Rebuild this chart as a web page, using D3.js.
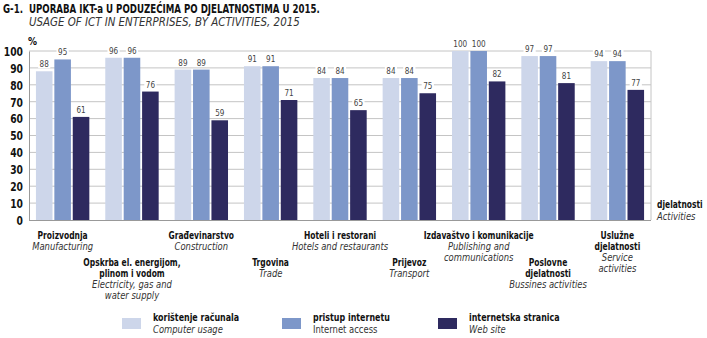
<!DOCTYPE html>
<html>
<head>
<meta charset="utf-8">
<script src="https://cdn.jsdelivr.net/npm/d3@7"></script>
<style>
  body { margin: 0; background: #fff; }
  svg { display: block; }
  text { font-family: "Liberation Sans Narrow", "DejaVu Sans Condensed", "Arial Narrow", sans-serif; font-stretch: condensed; }
  .title { font-weight: bold; font-size: 12px; fill: #111; }
  .subtitle { font-style: italic; font-size: 12px; fill: #333; }
  .ytick { font-weight: bold; font-size: 12px; fill: #111; }
  .val { font-size: 9.5px; fill: #444; }
  .cat { font-weight: bold; font-size: 10.5px; fill: #111; }
  .catEn { font-style: italic; font-size: 10.5px; fill: #333; }
  .legEn { font-size: 10.5px; fill: #333; }
</style>
</head>
<body>
<svg id="chart" width="707" height="338"></svg>
<script>
// activities (Croatian / English, split into lines)
const categories = ["manuf", "energy", "constr", "trade", "hotels", "transport", "publish", "business", "service"];
const catLabelsHr = [
  ["Proizvodnja"],
  ["Opskrba el. energijom,", "plinom i vodom"],
  ["Građevinarstvo"],
  ["Trgovina"],
  ["Hoteli i restorani"],
  ["Prijevoz"],
  ["Izdavaštvo i komunikacije"],
  ["Poslovne", "djelatnosti"],
  ["Uslužne", "djelatnosti"]
];
const catLabelsEn = [
  ["Manufacturing"],
  ["Electricity, gas and", "water supply"],
  ["Construction"],
  ["Trade"],
  ["Hotels and restaurants"],
  ["Transport"],
  ["Publishing and", "communications"],
  ["Bussines activities"],
  ["Service", "activities"]
];
const computerUsage  = [88, 96, 89, 91, 84, 84, 100, 97, 94];
const internetAccess = [95, 96, 89, 91, 84, 84, 100, 97, 94];
const webSite        = [61, 76, 59, 71, 65, 75, 82, 81, 77];
const yTicks = [0, 10, 20, 30, 40, 50, 60, 70, 80, 90, 100];

const series = [
  { key: "comp", hr: "korištenje računala", en: "Computer usage", values: computerUsage, color: "#cdd6ea", enClass: "catEn" },
  { key: "net", hr: "pristup internetu", en: "Internet access", values: internetAccess, color: "#7d97c9", enClass: "legEn" },
  { key: "web", hr: "internetska stranica", en: "Web site", values: webSite, color: "#2e2a5f", enClass: "catEn" }
];

const svg = d3.select("#chart");
const plotL = 29, plotR = 651, plotT = 51, plotB = 220;

// the fallback face is wider than a narrow grotesk, so squeeze each text
function squeeze(sel, k) {
  sel.each(function () {
    const w = this.getComputedTextLength();
    this.setAttribute("textLength", (w * k).toFixed(1));
    this.setAttribute("lengthAdjust", "spacingAndGlyphs");
  });
  return sel;
}

// titles
squeeze(svg.append("text").attr("class", "title").attr("x", 3).attr("y", 13).text("G-1."), 0.8);
squeeze(svg.append("text").attr("class", "title").attr("x", 29).attr("y", 13)
  .text("UPORABA IKT-a U PODUZEĆIMA PO DJELATNOSTIMA U 2015."), 0.8);
squeeze(svg.append("text").attr("class", "subtitle").attr("x", 29).attr("y", 26)
  .text("USAGE OF ICT IN ENTERPRISES, BY ACTIVITIES, 2015"), 0.95);

// scales
const x0 = d3.scaleBand().domain(categories).range([plotL, plotR])
  .paddingInner(0.23).paddingOuter(0.1);
const x1 = d3.scaleBand().domain(series.map(s => s.key)).range([0, x0.bandwidth()])
  .paddingInner(0.1);
const y = d3.scaleLinear().domain([0, 100]).range([plotB, plotT]);

// grid
svg.append("g").selectAll("line").data(yTicks.filter(t => t > 0)).enter()
  .append("line")
  .attr("x1", plotL).attr("x2", plotR)
  .attr("y1", d => y(d)).attr("y2", d => y(d))
  .attr("stroke", "#c4c4c4").attr("stroke-width", 1);
svg.append("line").attr("x1", plotR).attr("x2", plotR).attr("y1", plotT).attr("y2", plotB)
  .attr("stroke", "#c4c4c4");

// y axis
const yAxis = svg.append("g").attr("transform", `translate(${plotL},0)`)
  .call(d3.axisLeft(y).tickValues(yTicks).tickSize(0).tickPadding(6));
yAxis.select(".domain").attr("stroke", "#999");
yAxis.selectAll("text").attr("class", "ytick").attr("dy", "0.36em").call(squeeze, 0.85);
svg.append("text").attr("class", "ytick").attr("x", 28).attr("y", 45).style("font-size", "10px").text("%");

// bars
const groups = svg.append("g").selectAll("g").data(categories).enter()
  .append("g").attr("transform", d => `translate(${x0(d)},0)`);

series.forEach(s => {
  groups.append("rect")
    .attr("x", x1(s.key))
    .attr("width", x1.bandwidth())
    .attr("y", (d, i) => y(s.values[i]))
    .attr("height", (d, i) => y(0) - y(s.values[i]))
    .attr("fill", s.color);
});

// x baseline
svg.append("line").attr("x1", plotL).attr("x2", plotR).attr("y1", plotB + 0.5).attr("y2", plotB + 0.5)
  .attr("stroke", "#999").attr("stroke-width", 1.2);

// value labels with white backing over the grid
series.forEach(s => {
  const lab = groups.append("g")
    .attr("transform", (d, i) => `translate(${x1(s.key) + x1.bandwidth() / 2},${y(s.values[i]) - 4})`);
  const bg = lab.append("rect").attr("y", -8).attr("height", 9).attr("fill", "#fff");
  const tx = lab.append("text").attr("class", "val").attr("text-anchor", "middle")
    .text((d, i) => s.values[i]);
  squeeze(tx, 0.85);
  bg.each(function () {
    const w = this.parentNode.querySelector("text").getBBox().width + 3;
    d3.select(this).attr("x", -w / 2).attr("width", w);
  });
});

// category labels, staggered in two rows
const lineH = 11;
categories.forEach((c, i) => {
  const cx = x0(c) + x0.bandwidth() / 2;
  let yy = i % 2 === 0 ? 239 : 266;
  const t = svg.append("g");
  catLabelsHr[i].forEach(l => {
    t.append("text").attr("class", "cat").attr("text-anchor", "middle")
      .attr("x", cx).attr("y", yy).text(l).call(squeeze, 0.8);
    yy += lineH;
  });
  catLabelsEn[i].forEach(l => {
    t.append("text").attr("class", "catEn").attr("text-anchor", "middle")
      .attr("x", cx).attr("y", yy).text(l).call(squeeze, 0.89);
    yy += lineH;
  });
});

// axis title on the right
svg.append("text").attr("class", "cat").attr("x", 657).attr("y", 208).text("djelatnosti").call(squeeze, 0.8);
svg.append("text").attr("class", "catEn").attr("x", 657).attr("y", 220).text("Activities").call(squeeze, 0.89);

// legend
const legX = [122, 282, 438];
series.forEach((s, i) => {
  const g = svg.append("g").attr("transform", `translate(${legX[i]},318)`);
  g.append("rect").attr("width", 19).attr("height", 11).attr("fill", s.color);
  g.append("text").attr("class", "cat").attr("x", 31).attr("y", 3).text(s.hr).call(squeeze, 0.84);
  g.append("text").attr("class", s.enClass).attr("x", 31).attr("y", 15).text(s.en).call(squeeze, 0.89);
});
</script>
</body>
</html>
